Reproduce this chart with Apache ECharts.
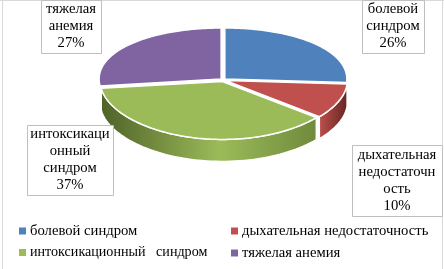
<!DOCTYPE html>
<html><head><meta charset="utf-8">
<style>html,body{margin:0;padding:0;background:#fff}#c{width:444px;height:269px}</style>
<script src="https://cdn.jsdelivr.net/npm/echarts@6/dist/echarts.min.js"></script>
</head><body><div id="c"></div>
<script>
var categories = ['болевой синдром', 'дыхательная недостаточность', 'интоксикационный   синдром', 'тяжелая анемия'];
var values = [26, 10, 37, 27];
var labelLines = [['болевой', 'синдром'], ['дыхательная', 'недостаточн', 'ость'], ['интоксикаци', 'онный', 'синдром'], ['тяжелая', 'анемия']];
var colors = ['#4f81bd', '#c0504d', '#9bbb59', '#8064a2'];
var sideDark = ['#2c4d75', '#632523', '#4f6228', '#403152'];
var labelBoxes = [[362, 0, 62, 53], [352, 145, 90, 71], [27, 125, 86, 70], [41, 0, 60, 53]];
var legendPos = [[19, 223.5], [231, 223.5], [19, 245.5], [231, 245.5]];
var legendFontSizes = [14.67, 14.67, 14.1, 14.67];

var FONT = '"Liberation Serif","Times New Roman",serif';
var cx = 223, cy = 80, rx = 122, ryA = 54.5, ryB = 3.5, depth = 22, gap = 2.5;
var total = values.reduce(function (a, b) { return a + b; }, 0);

function pt(a, ox, oy, dy) {
  var t = -Math.cos(a);
  return [cx + ox + rx * Math.sin(a), cy + oy + ryA * t + ryB * t * t + (dy || 0)];
}
function sliceRenderer(i) {
  return function (params, api) {
    var v = api.value(0);
    var before = values.slice(0, i).reduce(function (a, b) { return a + b; }, 0);
    var a0 = before / total * 2 * Math.PI, a1 = (before + v) / total * 2 * Math.PI;
    var mid = (a0 + a1) / 2;
    var ox = gap * Math.sin(mid), oy = gap * 0.6 * -Math.cos(mid);
    var children = [];
    var s0 = Math.max(a0, Math.PI / 2), s1 = Math.min(a1, 3 * Math.PI / 2);
    if (s1 > s0) {
      var side = [], n = 60, k;
      for (k = 0; k <= n; k++) side.push(pt(s0 + (s1 - s0) * k / n, ox, oy, 0));
      for (k = n; k >= 0; k--) side.push(pt(s0 + (s1 - s0) * k / n, ox, oy, depth));
      var stops = i === 1
        ? [{ offset: 0, color: colors[i] }, { offset: 1, color: sideDark[i] }]
        : [{ offset: 0, color: sideDark[i] }, { offset: 0.55, color: colors[i] }, { offset: 1, color: '#6f8a3c' }];
      children.push({
        type: 'polygon', shape: { points: side }, z2: 1,
        style: { fill: new echarts.graphic.LinearGradient(0, 0, 1, 0, stops), stroke: '#fff', lineWidth: 1.5 }
      });
    }
    var top = [[cx + ox, cy + oy]], m = 120;
    for (var j = 0; j <= m; j++) top.push(pt(a0 + (a1 - a0) * j / m, ox, oy, 0));
    children.push({
      type: 'polygon', shape: { points: top }, z2: 2,
      style: { fill: colors[i], stroke: '#fff', lineWidth: 1.5 }
    });
    var b = labelBoxes[i];
    children.push({
      type: 'rect', shape: { x: b[0] + 0.5, y: b[1] + 0.5, width: b[2], height: b[3] }, z2: 10,
      style: { fill: '#fff', stroke: '#bfbfbf', lineWidth: 1 }
    });
    var lines = labelLines[i].concat([v + '%']);
    children.push({
      type: 'text', z2: 11,
      style: {
        text: lines.join('\n'), x: b[0] + b[2] / 2, y: b[1] + b[3] / 2,
        align: 'center', verticalAlign: 'middle', lineHeight: 17,
        font: '14.67px ' + FONT, fill: '#000'
      }
    });
    return { type: 'group', children: children };
  };
}
var series = categories.map(function (name, i) {
  return {
    type: 'custom', name: name, coordinateSystem: 'none', silent: true,
    itemStyle: { color: colors[i] },
    data: [[values[i]]], renderItem: sliceRenderer(i), animation: false
  };
});
var legends = categories.map(function (name, i) {
  return {
    data: [name], left: legendPos[i][0], top: legendPos[i][1], padding: 0,
    icon: 'rect', itemWidth: 7, itemHeight: 7, itemGap: 0, selectedMode: false,
    textStyle: { fontFamily: FONT, fontSize: legendFontSizes[i], color: '#000', padding: [0, 0, 0, -1] }
  };
});
var chart = echarts.init(document.getElementById('c'), null, { renderer: 'canvas' });
chart.setOption({
  animation: false, backgroundColor: '#fff',
  legend: legends, series: series,
  graphic: [
    { type: 'line', shape: { x1: 2.5, y1: 0, x2: 2.5, y2: 269 }, style: { stroke: '#d9d9d9', lineWidth: 1 } },
    { type: 'line', shape: { x1: 0, y1: 0.5, x2: 444, y2: 0.5 }, style: { stroke: '#d9d9d9', lineWidth: 1 } },
    { type: 'line', shape: { x1: 442.5, y1: 0, x2: 442.5, y2: 269 }, style: { stroke: '#d9d9d9', lineWidth: 1 } }
  ]
});
</script></body></html>
